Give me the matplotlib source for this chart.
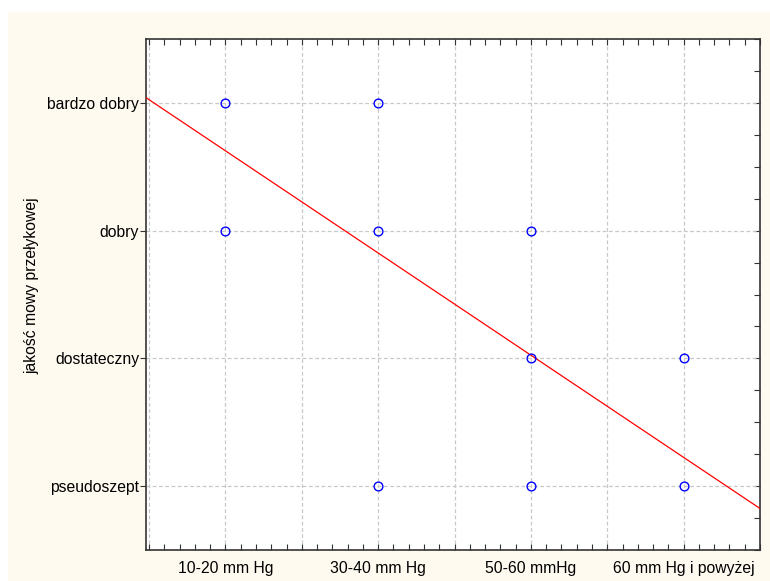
import matplotlib
matplotlib.use("Agg")
import matplotlib.pyplot as plt
from matplotlib.patches import Rectangle
from matplotlib.ticker import MultipleLocator, FixedLocator

plt.rcParams['font.family'] = ['Liberation Sans', 'DejaVu Sans']

# Pressure groups (x) and speech quality levels (y, bottom to top)
x_labels = ["10-20 mm Hg", "30-40 mm Hg", "50-60 mmHg", "60 mm Hg i powyżej"]
y_labels = ["pseudoszept", "dostateczny", "dobry", "bardzo dobry"]

# Observed combinations (category positions, 1-based)
obs_x = [1, 2, 1, 2, 3, 3, 4, 2, 3, 4]
obs_y = [4, 4, 3, 3, 3, 2, 2, 1, 1, 1]

# Fitted linear trend: y = intercept + slope * x
fit_intercept = 4.425
fit_slope = -0.80

FS = 11.3

fig = plt.figure(figsize=(7.70, 5.81), dpi=100, facecolor="white")
W, H = 770, 581
bg = Rectangle((8 / W, 0), 1 - 8 / W, 1 - 12 / H,
               transform=fig.transFigure, facecolor="#FFFAF0",
               edgecolor="none", zorder=-10)
fig.add_artist(bg)

ax = fig.add_axes([146 / W, 1 - 550 / H, (760 - 146) / W, (550 - 39) / H])
ax.set_facecolor("white")
ax.set_zorder(1)

xmin, xmax = 0.48, 4.5
ax.set_xlim(xmin, xmax)
ax.set_ylim(0.5, 4.5)

# grid
for gx in [0.5, 1.0, 1.5, 2.0, 2.5, 3.0, 3.5, 4.0]:
    ax.axvline(gx, color="#c8c8c8", lw=0.9, ls=(0, (3, 2)), zorder=1)
for gy in [1, 2, 3, 4]:
    ax.axhline(gy, color="#c8c8c8", lw=0.9, ls=(0, (3, 2)), zorder=1)

# fit line
lx = [xmin, xmax]
ly = [fit_intercept + fit_slope * v for v in lx]
ax.plot(lx, ly, color="red", lw=0.9, zorder=3, clip_on=True)

# points
ax.plot(obs_x, obs_y, ls="none", marker="o", markersize=6.3,
        markerfacecolor="none", markeredgecolor="blue", markeredgewidth=1.0,
        zorder=4)

# x axis: labels at categories, inward ticks every 0.1 on bottom and top
ax.xaxis.set_major_locator(FixedLocator([1, 2, 3, 4]))
ax.set_xticklabels(x_labels, fontsize=FS)
ax.xaxis.set_minor_locator(MultipleLocator(0.1))
ax.tick_params(axis="x", which="both", direction="in", length=4,
               top=True, bottom=True, width=0.8, color="#333333")
ax.tick_params(axis="x", which="major", pad=8)

# y axis: labels with outward ticks on the left, inward ticks on the right
ax.yaxis.set_major_locator(FixedLocator([1, 2, 3, 4]))
ax.set_yticklabels(y_labels, fontsize=FS)
ax.yaxis.set_minor_locator(MultipleLocator(0.25))
ax.tick_params(axis="y", which="major", direction="out", length=4, width=0.8,
               left=True, right=False, pad=1, color="#333333")
ax.tick_params(axis="y", which="minor", direction="in", length=4, width=0.8,
               left=False, right=True, color="#333333")
# right-side inward ticks at major positions too
ax2 = ax.secondary_yaxis("right")
ax2.set_yticks([1, 2, 3, 4])
ax2.set_yticklabels([])
ax2.tick_params(direction="in", length=4, width=0.8, color="#333333")
ax2.spines["right"].set_visible(False)

for s in ax.spines.values():
    s.set_color("#333333")
    s.set_linewidth(1.2)

ax.set_ylabel("jakość mowy przełykowej", fontsize=FS)
ax.yaxis.set_label_coords((32 - 146) / 614, (550 - 286) / 511)
ax.yaxis.label.set_verticalalignment("center")

fig.savefig("out.png", dpi=100, facecolor=fig.get_facecolor())
